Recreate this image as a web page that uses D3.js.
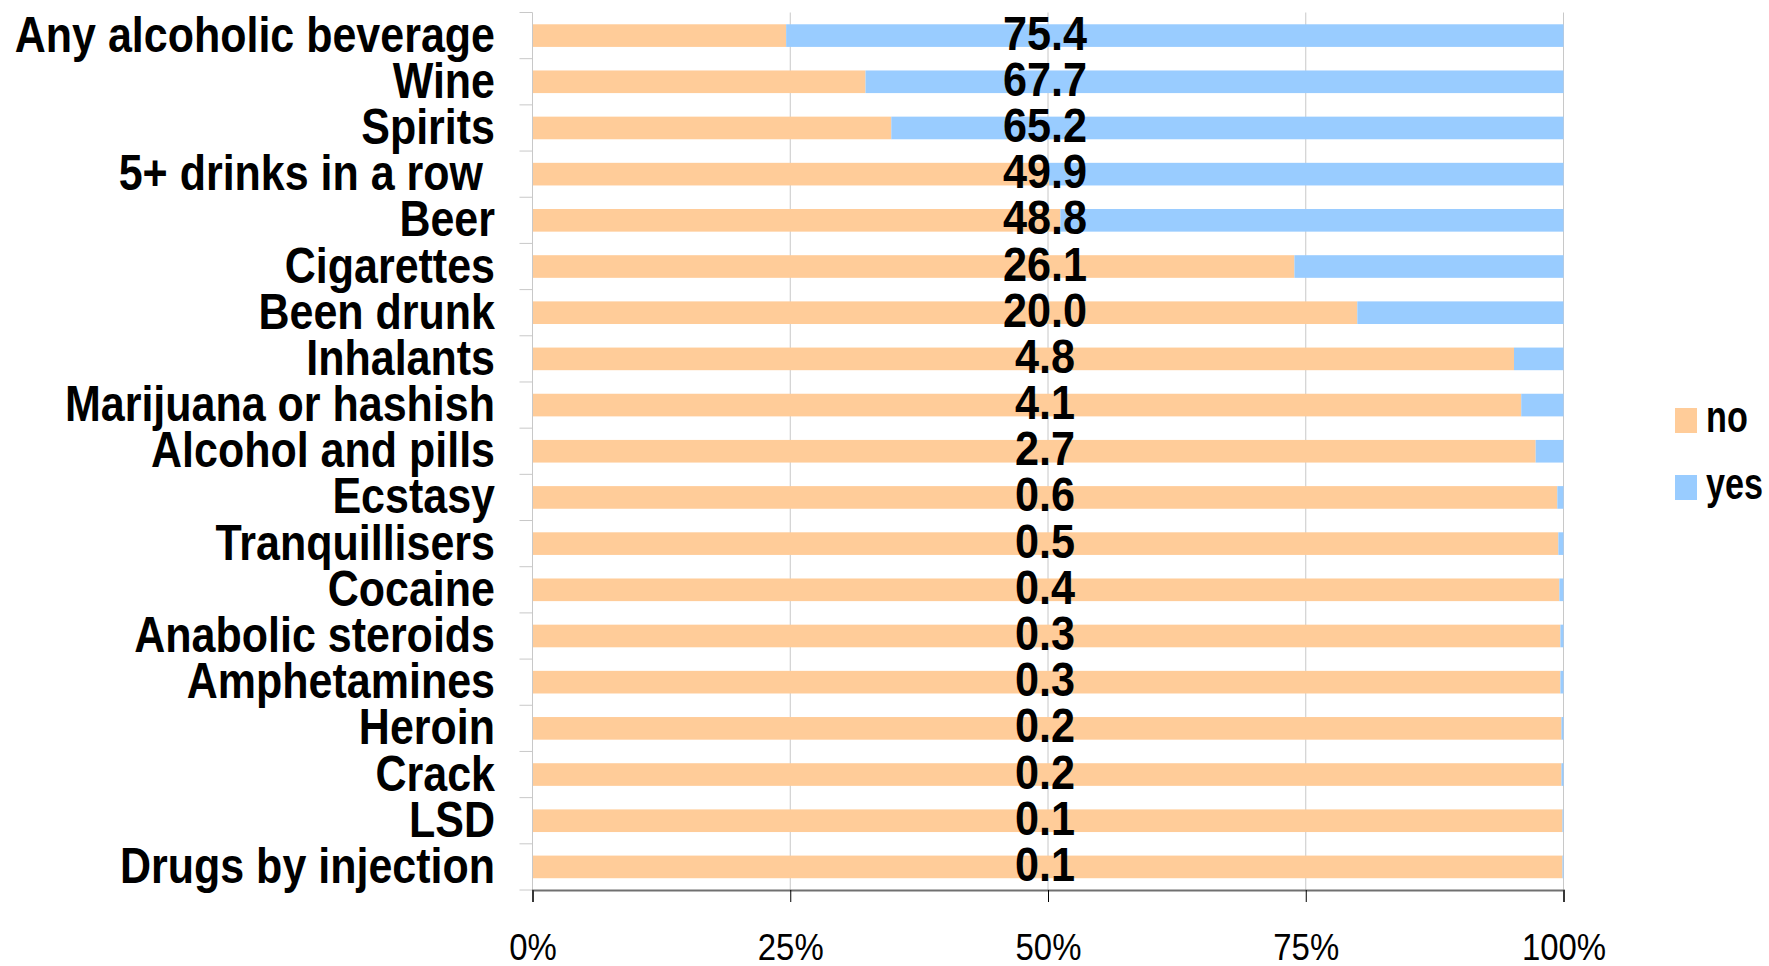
<!DOCTYPE html>
<html>
<head>
<meta charset="utf-8">
<script src="https://cdn.jsdelivr.net/npm/d3@7"></script>
<style>
  body { margin: 0; background: #fff; }
  text { font-family: "Liberation Sans", Arial, sans-serif; white-space: pre; }
</style>
</head>
<body>
<div id="chart"></div>
<script>
const width = 1769
const height = 966

const categories = ["Any alcoholic beverage", "Wine", "Spirits", "5+ drinks in a row ", "Beer",
  "Cigarettes", "Been drunk", "Inhalants", "Marijuana or hashish", "Alcohol and pills",
  "Ecstasy", "Tranquillisers", "Cocaine", "Anabolic steroids", "Amphetamines",
  "Heroin", "Crack", "LSD", "Drugs by injection"]
const yesValues = [75.4, 67.7, 65.2, 49.9, 48.8, 26.1, 20.0, 4.8, 4.1, 2.7, 0.6, 0.5, 0.4, 0.3, 0.3, 0.2, 0.2, 0.1, 0.1]
const noValues = yesValues.map(v => 100 - v)
const seriesNames = ["no", "yes"]
const seriesColors = ["#FFCC99", "#99CCFF"]
const xTicks = [0, 25, 50, 75, 100]

const plot = {left: 532.5, right: 1563.5, top: 12.5, bottom: 890}

const svg = d3.select("#chart").append("svg").attr("width", width).attr("height", height)

const x = d3.scaleLinear().domain([0, 100]).range([plot.left, plot.right])
const y = d3.scaleBand().domain(categories).range([plot.top, plot.bottom])
  .paddingInner(0.51).paddingOuter(0.255)

// no narrow font installed, so squeeze the text horizontally
function narrow(sel, sx, px, py) {
  sel.attr("transform", (d, i) => `translate(${px(d, i)},${py(d, i)}) scale(${sx},1)`)
    .attr("x", 0).attr("y", 0)
}

// gridlines
svg.append("g").selectAll("line").data(xTicks.slice(1))
  .join("line")
    .attr("x1", d => x(d)).attr("x2", d => x(d))
    .attr("y1", plot.top).attr("y2", plot.bottom)
    .attr("stroke", "#c8c8c8").attr("stroke-width", 1)

// stacked bars
const rows = categories.map((c, i) => ({cat: c, no: noValues[i], yes: yesValues[i]}))
const stack = d3.stack().keys(seriesNames)(rows)

svg.append("g").selectAll("g").data(stack)
  .join("g")
    .attr("fill", (d, i) => seriesColors[i])
  .selectAll("rect").data(d => d)
  .join("rect")
    .attr("x", d => x(d[0]))
    .attr("width", d => x(d[1]) - x(d[0]))
    .attr("y", d => y(d.data.cat))
    .attr("height", y.bandwidth())

// y axis (light gray with ticks at band boundaries)
const yAxisGroup = svg.append("g")
yAxisGroup.append("line")
  .attr("x1", plot.left).attr("x2", plot.left)
  .attr("y1", plot.top).attr("y2", plot.bottom)
  .attr("stroke", "#c8c8c8")
const bounds = d3.range(categories.length + 1).map(i => plot.top + i * y.step())
yAxisGroup.selectAll(".ytick").data(bounds)
  .join("line")
    .attr("class", "ytick")
    .attr("x1", plot.left - 13).attr("x2", plot.left)
    .attr("y1", d => d).attr("y2", d => d)
    .attr("stroke", "#c8c8c8")

// category labels
svg.append("g").selectAll("text").data(categories)
  .join("text")
    .attr("text-anchor", "end")
    .attr("font-weight", "bold")
    .attr("font-size", 50)
    .attr("fill", "#000")
    .text(d => d)
    .call(narrow, 0.86, () => 495, d => y(d) + y.bandwidth() / 2 + 16)

// x axis
const xAxis = d3.axisBottom(x).tickValues(xTicks).tickSize(12).tickFormat(d => d + "%")
const axisGroup = svg.append("g").attr("transform", `translate(0,${plot.bottom})`).call(xAxis)
axisGroup.select(".domain").attr("stroke", "#707070").attr("stroke-width", 2)
axisGroup.selectAll(".tick line").attr("stroke", "#000")
axisGroup.selectAll(".tick text")
  .attr("font-family", "\"Liberation Sans\", Arial, sans-serif")
  .attr("font-size", 37)
  .attr("fill", "#000")
  .attr("dy", null)
  .call(narrow, 0.89, () => 0, () => 70)

// value labels (yes %)
svg.append("g").selectAll("text").data(rows)
  .join("text")
    .attr("text-anchor", "middle")
    .attr("font-weight", "bold")
    .attr("font-size", 48)
    .attr("fill", "#000")
    .text(d => d3.format(".1f")(d.yes))
    .call(narrow, 0.9, () => x(50) - 3, d => y(d.cat) + y.bandwidth() / 2 + 14)

// legend
const legend = svg.append("g").selectAll("g").data(seriesNames)
  .join("g")
    .attr("transform", (d, i) => `translate(1675,${408 + i * 67})`)
legend.append("rect")
  .attr("width", 22).attr("height", 25)
  .attr("fill", (d, i) => seriesColors[i])
legend.append("text")
  .attr("font-weight", "bold")
  .attr("font-size", 45)
  .attr("fill", "#000")
  .text(d => d)
  .call(narrow, 0.76, () => 31, () => 24)
</script>
</body>
</html>
